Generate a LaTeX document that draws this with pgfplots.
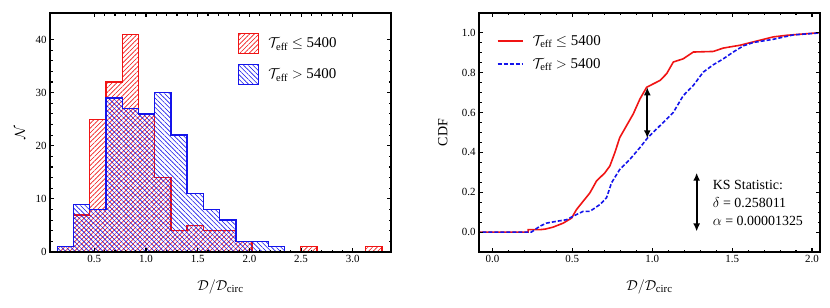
\documentclass[border=0pt]{standalone}
\usepackage{fontspec}
\setmainfont{Liberation Serif}
\usepackage{amsmath}
\usepackage{pgfplots}
\pgfplotsset{compat=1.18}
\usetikzlibrary{patterns.meta,arrows.meta}
\definecolor{myred}{RGB}{240,20,20}
\definecolor{myblue}{RGB}{20,20,235}
\begin{document}
\begin{tikzpicture}[x=1bp,y=1bp]
\useasboundingbox (0,0) rectangle (830,307);
\pgfplotsset{
  myframe/.style={scale only axis, width=341bp, height=239bp, anchor=south west,
   axis line style={line width=1.8bp}, tick pos=both, tick align=inside,
   major tick length=4bp, minor tick length=2.5bp,
   every tick/.style={black, line width=1.1bp},
   tick label style={font=\fontsize{11}{12}\selectfont},
   label style={font=\fontsize{15.5}{17}\selectfont},
   /pgf/number format/assume math mode=true,
   axis on top},
}
% ---------------- left: histograms ----------------
\begin{axis}[myframe, at={(50bp,55bp)},
  xmin=0.071, xmax=3.37, ymin=0, ymax=45,
  xtick={0.5,1.0,1.5,2.0,2.5,3.0}, ytick={0,10,20,30,40},
  minor x tick num=4, minor y tick num=4,
  xticklabel style={/pgf/number format/.cd, fixed, fixed zerofill, precision=1},
  xlabel={$\mathcal{D}/\mathcal{D}_{\text{circ}}$},
  ylabel={$\mathcal{N}$},
  xlabel style={at={(axis description cs:0.5,-0.146)}, anchor=center},
  ylabel style={at={(axis description cs:-0.088,0.5)}, anchor=center},
  legend image code/.code={\draw[#1, line width=1bp] (0bp,-10bp) rectangle (20bp,10bp);},
  legend style={at={(axis cs:1.862,41.6)}, anchor=north west, draw=none, fill=none,
    font=\fontsize{15}{17}\selectfont, row sep=10bp,
    nodes={inner xsep=9bp, inner ysep=0bp}},
  legend cell align=left,
]
\addplot[const plot mark left, draw=myred, line width=1.4bp,
  pattern={Lines[angle=45,distance=3.3bp,line width=0.6bp]}, pattern color=myred]
  coordinates {(0.142,1) (0.299,7) (0.456,25) (0.613,32) (0.770,41) (0.927,26)
   (1.084,14) (1.241,4) (1.398,5) (1.555,4) (1.712,4) (1.869,2) (2.026,0)
   (2.183,0) (2.340,0) (2.497,1) (2.654,0) (2.811,0) (2.968,0) (3.125,1) (3.282,1)} \closedcycle;
\addlegendentry{$\mathcal{T}_{\text{eff}}$ $\leq$ 5400}
\addplot[const plot mark left, draw=myblue, line width=1.4bp,
  pattern={Lines[angle=-45,distance=3.3bp,line width=0.6bp]}, pattern color=myblue]
  coordinates {(0.142,1) (0.299,9) (0.456,8) (0.613,29) (0.770,27) (0.927,26)
   (1.084,30) (1.241,22) (1.398,11) (1.555,8) (1.712,6) (1.869,2) (2.026,2)
   (2.183,1) (2.340,1)} \closedcycle;
\addlegendentry{$\mathcal{T}_{\text{eff}}$ $>$ 5400}
\end{axis}
% ---------------- right: CDFs ----------------
\begin{axis}[myframe, at={(479bp,55bp)},
  xmin=-0.084, xmax=2.05, ymin=-0.1, ymax=1.1,
  xtick={0,0.5,1.0,1.5,2.0}, ytick={0,0.2,0.4,0.6,0.8,1.0},
  minor x tick num=4, minor y tick num=3,
  xticklabel style={/pgf/number format/.cd, fixed, fixed zerofill, precision=1},
  yticklabel style={/pgf/number format/.cd, fixed, fixed zerofill, precision=1},
  xlabel={$\mathcal{D}/\mathcal{D}_{\text{circ}}$},
  ylabel={CDF},
  xlabel style={at={(axis description cs:0.5,-0.146)}, anchor=center},
  ylabel style={at={(axis description cs:-0.106,0.5)}, anchor=center, font=\fontsize{14}{16}\selectfont},
  legend image code/.code={\draw[#1] (0bp,0bp) -- (25bp,0bp);},
  legend style={at={(axis cs:0.008,1.0)}, anchor=north west, draw=none, fill=none,
    font=\fontsize{15}{17}\selectfont, row sep=12bp,
    nodes={inner xsep=9bp, inner ysep=0bp}},
  legend cell align=left,
]
\addplot[myred, line width=1.6bp] coordinates {(-0.1,0) (0.223,0) (0.223,0.012) (0.296,0.012)
 (0.33,0.015) (0.38,0.025) (0.443,0.045) (0.495,0.07) (0.526,0.113) (0.568,0.155)
 (0.61,0.197) (0.651,0.256) (0.704,0.298) (0.735,0.332) (0.766,0.399) (0.797,0.475)
 (0.839,0.534) (0.881,0.593) (0.923,0.668) (0.965,0.727) (1.006,0.744) (1.048,0.761)
 (1.09,0.795) (1.132,0.854) (1.194,0.870) (1.257,0.904) (1.382,0.907) (1.445,0.924)
 (1.549,0.938) (1.633,0.955) (1.758,0.98) (1.841,0.988) (2.03,1.0) (2.1,1.0)};
\addlegendentry{$\mathcal{T}_{\text{eff}}$ $\leq$ 5400}
\addplot[myblue, line width=1.6bp, dash pattern=on 4bp off 2bp] coordinates {(-0.1,0) (0.244,0)
 (0.296,0.029) (0.338,0.045) (0.40,0.054) (0.463,0.062) (0.526,0.088) (0.568,0.104)
 (0.61,0.104) (0.672,0.138) (0.714,0.172) (0.745,0.247) (0.797,0.315) (0.86,0.365)
 (0.923,0.424) (0.969,0.471) (1.048,0.534) (1.132,0.601) (1.194,0.685) (1.257,0.736)
 (1.319,0.803) (1.382,0.840) (1.445,0.870) (1.507,0.904) (1.57,0.935) (1.633,0.952)
 (1.758,0.968) (1.883,0.990) (2.05,1.0)};
\addlegendentry{$\mathcal{T}_{\text{eff}}$ $>$ 5400}
\addplot[black, line width=2bp, {Latex[length=8bp,width=7bp]}-{Latex[length=8bp,width=7bp]}, forget plot]
  coordinates {(0.969,0.471) (0.969,0.727)};
\addplot[black, line width=2bp, {Latex[length=8bp,width=7bp]}-{Latex[length=8bp,width=7bp]}, forget plot]
  coordinates {(1.278,0.003) (1.278,0.298)};
\node[anchor=west, align=left, font=\fontsize{14}{18.3}\selectfont, inner sep=0pt]
  at (axis cs:1.378,0.146) {KS Statistic:\\$\delta$ = 0.258011\\$\alpha$ = 0.00001325};
\end{axis}
\end{tikzpicture}
\end{document}
